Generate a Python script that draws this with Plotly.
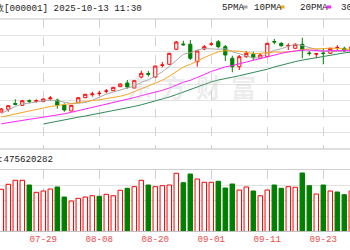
import plotly.graph_objects as go

W, H = 350, 250

dates = ["07-21", "07-22", "07-23", "07-24", "07-25", "07-28", "07-29", "07-30", "07-31",
         "08-01", "08-04", "08-05", "08-06", "08-07", "08-08", "08-11", "08-12", "08-13",
         "08-14", "08-15", "08-18", "08-19", "08-20", "08-21", "08-22", "08-25", "08-26",
         "08-27", "08-28", "08-29", "09-01", "09-02", "09-03", "09-04", "09-05", "09-08",
         "09-09", "09-10", "09-11", "09-12", "09-15", "09-16", "09-17", "09-18", "09-19",
         "09-22", "09-23", "09-24", "09-25", "09-26", "09-29"]

open_ = [3542.4, 3555.4, 3583.2, 3574.6, 3596.6, 3593.8, 3591.8, 3606.2, 3600.0, 3576.0,
         3547.2, 3587.0, 3611.0, 3625.4, 3630.7, 3641.8, 3644.6, 3663.8, 3681.6, 3657.6,
         3710.4, 3727.2, 3710.4, 3766.6, 3771.4, 3843.4, 3868.8, 3867.4, 3783.8, 3844.8,
         3867.4, 3879.8, 3855.8, 3800.2, 3759.8, 3807.8, 3819.4, 3800.2, 3807.8, 3880.8,
         3872.2, 3859.7, 3848.2, 3867.4, 3825.6, 3819.8, 3825.6, 3824.2, 3850.1, 3848.2,
         3835.2]
high = [3561.6, 3576.0, 3603.4, 3598.6, 3603.4, 3603.4, 3607.2, 3619.2, 3606.2, 3584.2,
        3576.0, 3613.0, 3628.8, 3639.8, 3644.6, 3652.8, 3662.4, 3679.2, 3696.0, 3696.0,
        3740.6, 3739.2, 3764.6, 3782.4, 3825.6, 3883.2, 3884.6, 3888.0, 3836.6, 3864.0,
        3877.0, 3888.0, 3864.0, 3812.6, 3816.0, 3835.2, 3831.8, 3824.2, 3873.6, 3892.8,
        3877.0, 3872.2, 3872.2, 3899.0, 3835.2, 3824.2, 3848.2, 3849.6, 3864.0, 3855.8,
        3859.2]
low = [3540.0, 3543.8, 3574.6, 3572.6, 3584.2, 3587.0, 3590.4, 3596.6, 3558.2, 3543.8,
       3545.8, 3585.6, 3609.6, 3615.8, 3620.6, 3632.2, 3643.2, 3662.4, 3654.2, 3656.2,
       3704.2, 3712.8, 3709.0, 3756.0, 3770.4, 3840.0, 3860.6, 3792.0, 3759.8, 3840.0,
       3860.6, 3848.2, 3787.2, 3733.0, 3744.0, 3803.0, 3792.0, 3795.4, 3806.4, 3867.4,
       3855.8, 3840.0, 3847.2, 3800.2, 3812.6, 3800.2, 3771.4, 3823.2, 3840.0, 3831.8,
       3832.8]
close = [3556.8, 3572.6, 3579.4, 3596.6, 3593.8, 3596.6, 3604.8, 3609.6, 3574.6, 3552.0,
         3574.6, 3611.0, 3627.4, 3628.8, 3632.2, 3643.2, 3661.0, 3676.8, 3662.4, 3693.6,
         3728.2, 3723.4, 3763.2, 3768.0, 3824.2, 3878.4, 3865.4, 3800.2, 3835.2, 3855.8,
         3868.8, 3855.8, 3816.0, 3759.8, 3807.8, 3824.2, 3803.0, 3816.0, 3872.2, 3878.4,
         3860.6, 3861.1, 3867.4, 3840.0, 3823.2, 3821.8, 3822.7, 3848.2, 3851.5, 3835.2,
         3854.4]

ma5 = [3535.2, 3552.0, 3568.8, 3580.8, 3585.6, 3590.4, 3595.2, 3600.0, 3596.2, 3588.0,
       3583.2, 3584.2, 3588.0, 3598.6, 3614.9, 3628.3, 3638.4, 3648.5, 3655.2, 3667.2,
       3684.5, 3697.0, 3714.2, 3735.4, 3761.3, 3791.5, 3819.8, 3827.0, 3840.5, 3847.2,
       3845.3, 3843.4, 3846.2, 3831.4, 3821.8, 3812.6, 3802.1, 3802.1, 3824.6, 3838.6,
       3846.2, 3857.8, 3867.8, 3861.6, 3850.6, 3842.9, 3835.2, 3831.4, 3833.3, 3835.7,
       3842.4]
ma10 = [3518.4, 3525.6, 3535.2, 3542.4, 3549.6, 3556.8, 3564.0, 3568.8, 3573.6, 3578.4,
        3585.6, 3589.4, 3594.2, 3597.1, 3601.0, 3605.8, 3611.5, 3618.2, 3626.9, 3641.3,
        3656.6, 3667.7, 3681.1, 3695.0, 3714.2, 3737.8, 3758.4, 3770.9, 3788.2, 3804.0,
        3818.4, 3831.4, 3836.6, 3836.2, 3834.2, 3829.0, 3822.7, 3824.2, 3828.0, 3830.4,
        3829.4, 3829.9, 3835.2, 3842.9, 3844.8, 3844.3, 3846.2, 3849.6, 3847.7, 3843.4,
        3842.4]
ma20 = [3485.8, 3492.0, 3496.8, 3502.6, 3507.4, 3512.2, 3517.0, 3522.2, 3528.0, 3533.8,
        3541.0, 3548.6, 3556.8, 3564.0, 3571.2, 3578.4, 3585.6, 3593.3, 3601.9, 3611.5,
        3621.1, 3628.3, 3637.4, 3646.1, 3657.6, 3672.0, 3685.0, 3694.6, 3707.5, 3722.4,
        3737.3, 3749.8, 3758.9, 3765.6, 3774.2, 3783.4, 3790.6, 3797.3, 3807.8, 3817.2,
        3823.7, 3830.9, 3835.9, 3839.5, 3839.5, 3836.6, 3834.7, 3837.1, 3837.6, 3836.6,
        3836.2]
ma30 = [None, None, None, None, None, None,
        3484.8, 3492.0, 3499.2, 3505.4, 3511.2, 3517.4, 3523.2, 3529.4, 3535.7, 3542.4,
        3549.1, 3555.8, 3562.6, 3569.3, 3577.0, 3585.6, 3594.2, 3603.8, 3614.4, 3625.9,
        3638.4, 3651.4, 3663.8, 3676.3, 3686.9, 3696.0, 3704.2, 3709.4, 3716.6, 3724.3,
        3731.0, 3737.8, 3747.8, 3758.4, 3768.0, 3776.2, 3784.3, 3791.5, 3797.8, 3803.5,
        3809.3, 3815.0, 3821.3, 3826.1, 3829.9]

# volume in millions; up flag = close above previous close
volume = [681, 761, 826, 826, 750, 632, 653, 685, 718, 556,
          492, 535, 556, 577, 568, 600, 577, 665, 697, 723,
          826, 750, 723, 739, 750, 939, 787, 927, 847, 794,
          794, 810, 702, 766, 669, 718, 653, 577, 669, 750,
          697, 723, 713, 944, 739, 605, 750, 653, 637, 594, 653]
vol_up = [1, 1, 1, 1, 0, 1, 1, 1, 0, 0,
          1, 1, 1, 1, 0, 1, 1, 1, 0, 1,
          1, 0, 1, 1, 1, 1, 0, 0, 1, 1,
          1, 0, 0, 0, 1, 1, 0, 1, 1, 0,
          0, 1, 1, 0, 0, 1, 0, 1, 0, 0, 1]

tick_dates = ["07-29", "08-08", "08-20", "09-01", "09-11", "09-23"]
prev_tick_label = "07-17"
title_text = "上证指数[000001] 2025-10-13 11:30"
vol_label = "成交量:475620282"
legend_names = ["5PMA", "10PMA", "20PMA", "30PMA"]

RED = "#ff0000"
GREEN = "#008000"
MA_COLORS = ["#a8a8a8", "#f5a623", "#ff22ff", "#2e8b57"]
FONT = "Liberation Mono"

idx = list(range(len(dates)))
tickvals = [dates.index(d) for d in tick_dates]
XR = [-0.186, 49.814]


def px(x):
    return x / W


def py(y):
    return (H - y) / H


fig = go.Figure()

fig.add_trace(go.Candlestick(
    x=idx, open=open_, high=high, low=low, close=close,
    increasing=dict(line=dict(color=RED, width=1), fillcolor="white"),
    decreasing=dict(line=dict(color=GREEN, width=1), fillcolor=GREEN),
    whiskerwidth=0, xaxis="x", yaxis="y", showlegend=False, hoverinfo="skip"))

for name, vals, col in zip(legend_names, [ma5, ma10, ma20, ma30], MA_COLORS):
    fig.add_trace(go.Scatter(x=idx, y=vals, mode="lines", name=name,
                             line=dict(color=col, width=1), xaxis="x", yaxis="y",
                             showlegend=False, hoverinfo="skip"))

fig.add_trace(go.Bar(
    x=idx, y=volume, width=0.64,
    marker=dict(color=["white" if u else GREEN for u in vol_up],
                line=dict(color=[RED if u else GREEN for u in vol_up], width=1)),
    xaxis="x2", yaxis="y2", showlegend=False, hoverinfo="skip"))

grid = "#e2e2e2"
vgrid = "#d2d2d2"
common_x = dict(range=XR, tickmode="array", tickvals=tickvals, showgrid=True,
                griddash="dash", gridcolor=vgrid, gridwidth=1, zeroline=False,
                showline=False, ticks="", fixedrange=True)

fig.update_layout(
    width=W, height=H, margin=dict(l=0, r=0, t=0, b=0),
    paper_bgcolor="white", plot_bgcolor="white", boxgap=0.35,
    xaxis=dict(**common_x, domain=[0, 1], anchor="y", showticklabels=False,
               rangeslider=dict(visible=False)),
    xaxis2=dict(**common_x, domain=[0, 1], anchor="y2", showticklabels=True,
                ticktext=tick_dates,
                tickfont=dict(family=FONT, size=9.2, color="#ee4b4b")),
    yaxis=dict(domain=[py(149), py(19)], range=[3364.8, 3988.8], tick0=3364.8,
               dtick=78, showgrid=True, gridcolor=grid, showticklabels=False,
               zeroline=False, ticks="", fixedrange=True),
    yaxis2=dict(domain=[py(231.5), py(169.5)], range=[0, 1000], dtick=250,
                showgrid=True, gridcolor=grid, showticklabels=False,
                zeroline=False, ticks="", fixedrange=True),
)

shapes = []
for yy, c in [(19, "#c4c4c4"), (149, "#bfbfbf"), (169.5, "#cfcfcf"), (231.5, "#bfbfbf")]:
    shapes.append(dict(type="line", xref="paper", yref="paper", x0=0, x1=1,
                       y0=py(yy), y1=py(yy), line=dict(color=c, width=1)))

ann = []
ann.append(dict(text=title_text, xref="paper", yref="paper", x=px(143.5), y=py(8),
                xanchor="right", yanchor="middle", showarrow=False,
                font=dict(family=FONT, size=9.2, color="#222222")))
ann.append(dict(text=vol_label, xref="paper", yref="paper", x=px(54.5), y=py(159.5),
                xanchor="right", yanchor="middle", showarrow=False,
                font=dict(family=FONT, size=9.2, color="#222222")))

leg_x = [220, 251.5, 298, 339]
for name, lx, col in zip(legend_names, leg_x, MA_COLORS):
    ann.append(dict(text=name, xref="paper", yref="paper", x=px(lx), y=py(7.5),
                    xanchor="left", yanchor="middle", showarrow=False,
                    font=dict(family=FONT, size=9.2, color="#222222")))
    dx = lx + len(name) * 5.52 + 1
    shapes.append(dict(type="rect", xref="paper", yref="paper", x0=px(dx), x1=px(dx + 4.5),
                       y0=py(8.5), y1=py(5.5), fillcolor=col, line=dict(width=0)))

# previous (cut) date label
prev_pos = tickvals[0] - 8
ann.append(dict(text=prev_tick_label, xref="paper", yref="paper",
                x=(prev_pos - XR[0]) / (XR[1] - XR[0]), y=py(241), xanchor="center",
                yanchor="middle", showarrow=False,
                font=dict(family=FONT, size=9.2, color="#ee4b4b")))

# watermark
for ch, cx in zip("东方财富", [139, 173, 208, 243]):
    ann.append(dict(text=ch, xref="paper", yref="paper", x=px(cx), y=py(86),
                    xanchor="center", yanchor="middle", showarrow=False,
                    font=dict(family="Noto Sans CJK SC", size=25, color="rgba(190,190,190,0.28)",
                              weight="bold")))

fig.update_layout(shapes=shapes, annotations=ann)
fig.write_html("out.html")
